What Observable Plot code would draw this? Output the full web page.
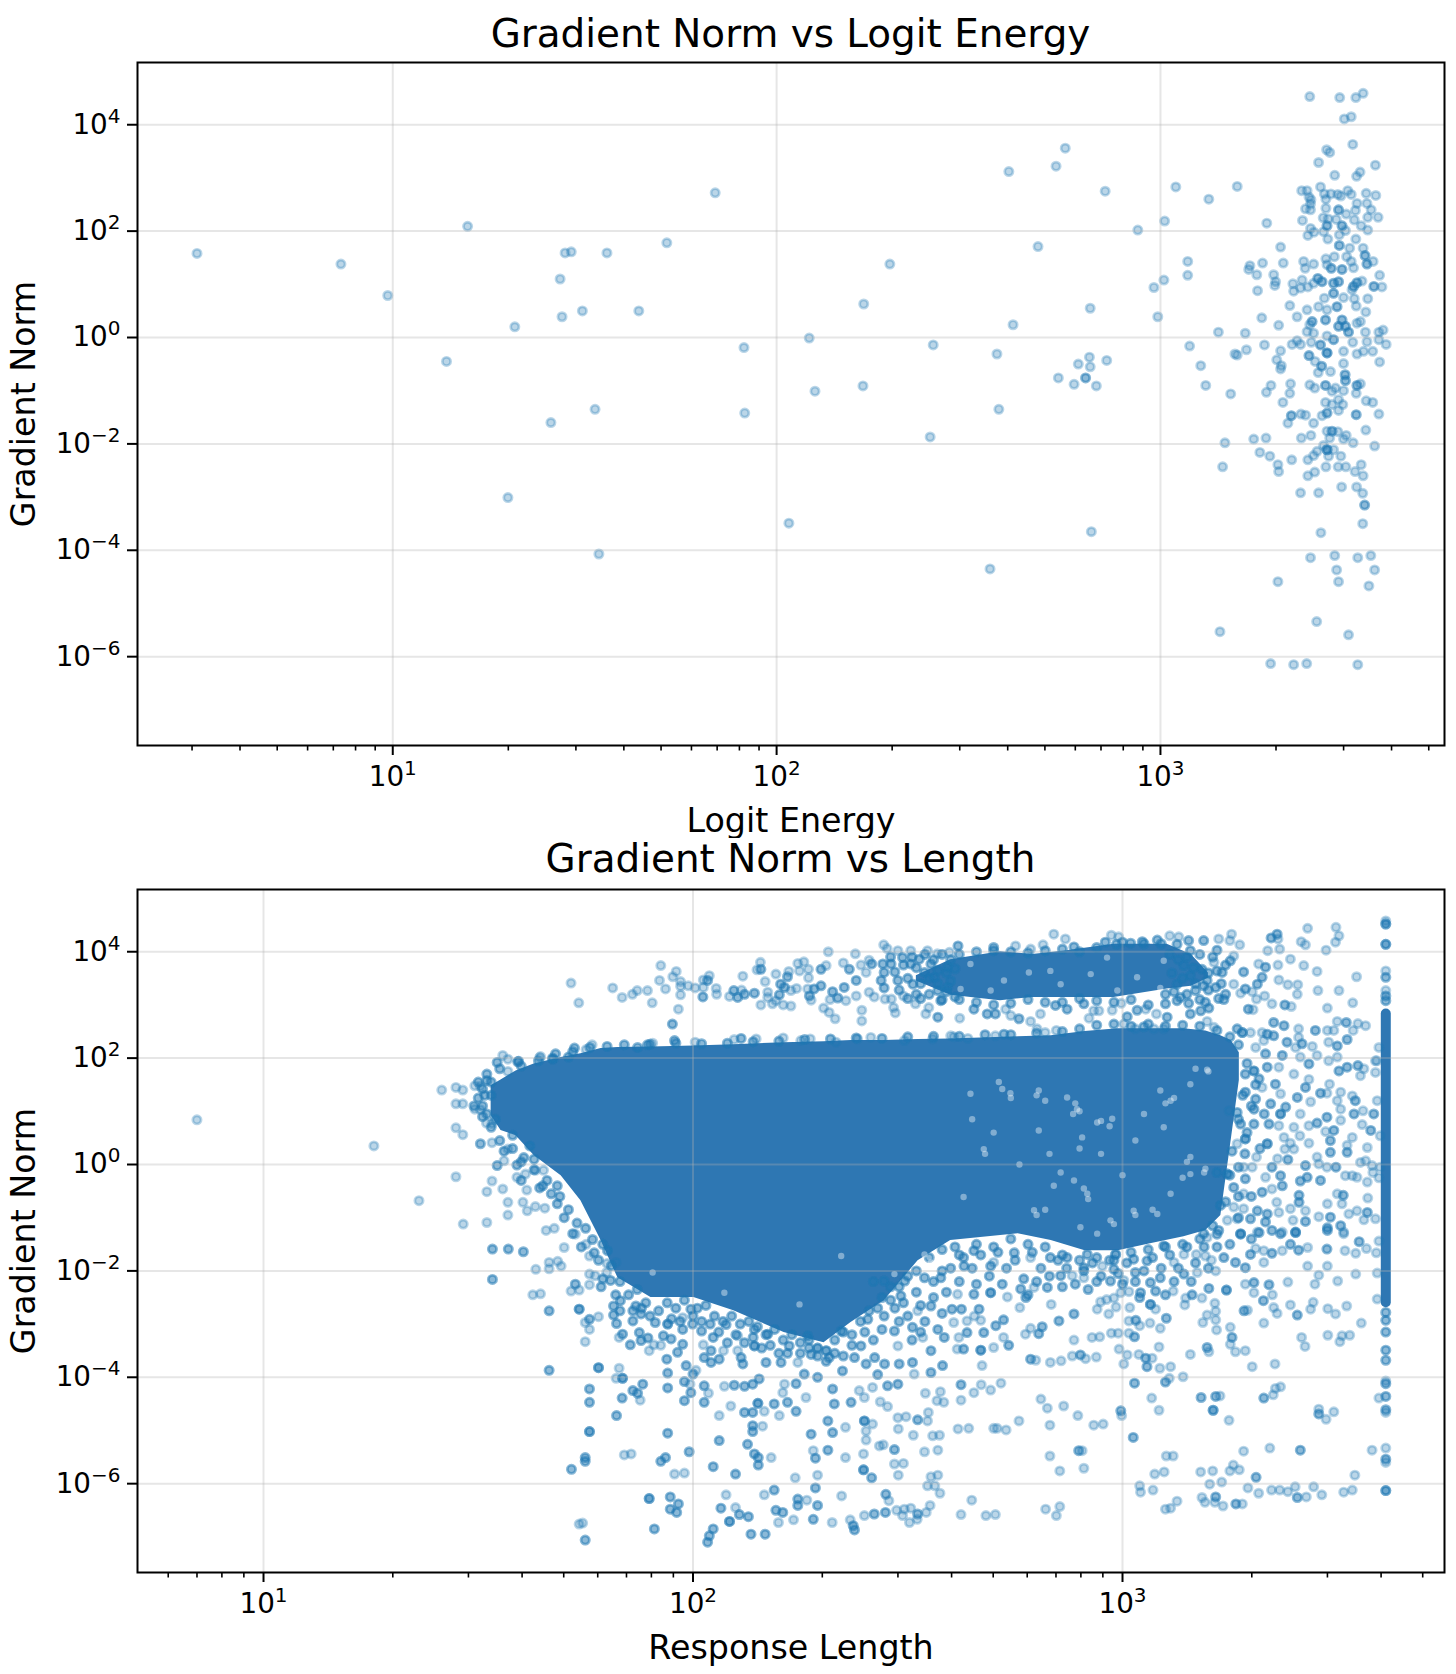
<!DOCTYPE html>
<html><head><meta charset="utf-8">
<script src="https://cdn.jsdelivr.net/npm/d3@7"></script>
<script src="https://cdn.jsdelivr.net/npm/@observablehq/plot@0.6"></script>
<style>
html,body{margin:0;padding:0;background:#fff}
#page{position:relative;width:1456px;height:1674px;font-family:"DejaVu Sans",sans-serif;overflow:hidden}
#page svg{position:absolute;left:0;background:#fff;overflow:visible}
.ttl{position:absolute;left:137px;width:1307px;text-align:center;font-size:38.9px;line-height:44px;color:#000;z-index:2}
</style></head><body>
<div id="page">
<div class="ttl" style="top:12px">Gradient Norm vs Logit Energy</div>
<div class="ttl" style="top:837px">Gradient Norm vs Length</div>
</div>
<script>
// All points are [log10 x, log10 y, overlap weight (default 1)].
const energySparse = [[.49,1.58],[.865,1.38],[.987,.79],[1.195,2.09],[1.14,-.45],[1.84,2.72],[1.714,1.78],[1.558,1.59],[1.465,1.61],[1.449,1.59],[1.436,1.10],[1.494,.50],[1.441,.39],[1.641,.50],[1.318,.20],[1.915,-.19],[1.527,-1.35],[1.412,-1.60],[1.917,-1.42],[1.30,-3.01],[1.537,-4.07],[2.032,-3.49],[2.085,-.01],[2.10,-1.01],[2.225,-.91],[2.227,.63],[2.295,1.38],[2.408,-.14],[2.40,-1.87],[2.574,-.31],[2.579,-1.35],[2.616,.24],[2.681,1.71],[2.605,3.12],[2.728,3.22],[2.752,3.56],[2.556,-4.35],[2.82,-3.65],[2.817,.55],[2.815,-.37],[2.786,-.50],[2.817,-.55],[2.734,-.76],[2.775,-.88],[2.805,-.76,2],[2.833,-.91],[2.856,2.75],[3.04,2.83],[3.126,2.60],[3.20,2.84],[2.941,2.02],[3.011,2.19],[3.277,2.15],[3.071,1.43],[3.071,1.17],[3.009,1.08],[2.983,.94],[2.993,.39],[3.313,1.70],[3.266,1.40],[3.32,1.40],[3.233,1.35],[3.23,1.28],[3.251,1.18],[3.295,1.18],[3.30,1.05],[3.298,.98],[3.253,.88],[3.337,.60],[3.264,.37],[3.308,.23],[3.151,.10],[3.221,.08],[3.076,-.16],[3.194,-.31],[3.20,-.33],[3.224,-.23],[3.271,-.14],[3.313,-.25],[3.303,-.42],[3.315,-.53],[3.313,-.59],[3.105,-.53],[2.86,-.43]];
const energyClusterUpper = [[3.389,4.53],[3.467,4.51],[3.509,4.51],[3.528,4.59],[3.479,4.11],[3.497,4.15],[3.501,3.63],[3.433,3.53],[3.441,3.48],[3.412,3.29],[3.56,3.24],[3.454,3.05],[3.52,3.11],[3.511,3.03],[3.417,2.83],[3.368,2.76],[3.382,2.76],[3.488,2.76],[3.497,2.69],[3.427,2.70],[3.444,2.70],[3.462,2.69],[3.47,2.66],[3.536,2.71],[3.561,2.67],[3.387,2.64],[3.392,2.59],[3.391,2.51],[3.378,2.42],[3.391,2.40],[3.431,2.60],[3.431,2.43],[3.464,2.40,2],[3.512,2.52],[3.538,2.52],[3.549,2.40],[3.508,2.39],[3.484,2.32],[3.54,2.26],[3.567,2.26],[3.424,2.25],[3.437,2.23],[3.37,2.20],[3.458,2.22],[3.505,2.21],[3.434,2.10,2],[3.473,2.10,2],[3.391,2.05],[3.40,1.98],[3.384,1.92],[3.425,1.99],[3.466,1.93],[3.482,2.01],[3.523,2.10],[3.54,2.02],[3.436,1.85],[3.509,1.85],[3.466,1.73,2],[3.493,1.68],[3.528,1.68],[3.533,1.54,2],[3.431,1.48],[3.453,1.52],[3.485,1.52],[3.373,1.43],[3.497,1.43],[3.399,1.38],[3.538,1.38,2],[3.554,1.43],[3.377,1.30],[3.434,1.37],[3.445,1.30,2],[3.473,1.28,2],[3.503,1.31],[3.571,1.17],[3.41,1.11,3],[3.421,1.05,2],[3.369,1.08],[3.345,1.01],[3.347,.87],[3.365,.93],[3.384,.95],[3.399,1.02],[3.451,1.02,3],[3.464,1.05,2],[3.525,1.06],[3.512,1.03,2],[3.503,.96,2],[3.556,.96,2],[3.577,.95],[3.451,.83,2],[3.499,.90]];
const energyClusterLower = [[3.427,.74],[3.477,.75],[3.505,.73],[3.54,.73],[3.412,.58],[3.46,.58,3],[3.51,.59],[3.382,.52],[3.434,.52],[3.535,.48],[3.356,.39],[3.395,.30,2],[3.43,.33,2],[3.473,.33,2],[3.521,.30],[3.512,.27],[3.389,.24],[3.464,.21,3],[3.482,.21,2],[3.382,.11],[3.534,.10],[3.569,.10],[3.58,.14],[3.49,.10,2],[3.399,.08],[3.434,.03],[3.451,-.04,3],[3.356,-.06],[3.343,-.13],[3.365,-.13],[3.393,-.09],[3.417,-.14,2],[3.501,-.09],[3.538,-.08],[3.569,-.04],[3.588,-.13],[3.434,-.29,4],[3.387,-.34,2],[3.477,-.26],[3.512,-.31],[3.529,-.26],[3.553,-.26],[3.571,-.46],[3.403,-.45],[3.42,-.54,2],[3.477,-.49],[3.411,-.66],[3.443,-.64],[3.481,-.70,2],[3.118,-.90],[3.183,-1.06],[3.288,-.90],[3.276,-1.03],[3.339,-.87],[3.337,-1.05],[3.319,-1.22],[3.389,-.89],[3.402,-.95],[3.43,-.90,2],[3.447,-1.01],[3.456,-.95],[3.477,-1.0],[3.512,-.90,2],[3.521,-.87],[3.51,-1.05],[3.482,-.81,2],[3.43,-1.22],[3.464,-1.17],[3.447,-1.26],[3.475,-1.26],[3.536,-1.19],[3.553,-1.22],[3.464,-1.37],[3.434,-1.42,3],[3.421,-1.47],[3.569,-1.44],[3.51,-1.45,2],[3.341,-1.47,2],[3.366,-1.44],[3.378,-1.46],[3.332,-1.61],[3.399,-1.61],[3.535,-1.74],[3.434,-1.76],[3.447,-1.76,2],[3.462,-1.77],[3.484,-1.84],[3.477,-1.91],[3.392,-1.84],[3.367,-1.89],[3.275,-1.89],[3.243,-1.91],[3.168,-1.98],[3.441,-1.89],[3.502,-1.98],[3.558,-2.04],[3.425,-2.03],[3.434,-2.11,4],[3.451,-2.11],[3.408,-2.14],[3.399,-2.22],[3.384,-2.30],[3.342,-2.30],[3.438,-2.23],[3.47,-2.23],[3.259,-2.16],[3.285,-2.23],[3.306,-2.39],[3.308,-2.52],[3.162,-2.43],[3.431,-2.43],[3.463,-2.43],[3.483,-2.43],[3.523,-2.39],[3.507,-2.52],[3.402,-2.53],[3.384,-2.60],[3.528,-2.60],[3.472,-2.81],[3.511,-2.81],[3.527,-2.93],[3.365,-2.92],[3.412,-2.92],[3.532,-3.15,2],[3.527,-3.50],[3.418,-3.67],[3.391,-4.14],[3.454,-4.10],[3.514,-4.14],[3.548,-4.10],[3.459,-4.37],[3.558,-4.37],[3.306,-4.59],[3.464,-4.59],[3.543,-4.67],[3.407,-5.34],[3.155,-5.53],[3.49,-5.59],[3.287,-6.13],[3.347,-6.15],[3.381,-6.13],[3.514,-6.15]];

// Solid mass of overlapping points in the lower panel: envelope
const blobLogLength = [1.53,1.553,1.588,1.63,1.693,1.739,1.786,1.825,1.902,2.002,2.095,2.212,2.305,2.368,2.445,2.524,2.60,2.757,2.834,2.913,2.99,3.065,3.143,3.194,3.229,3.253,3.272];
const blobLogUpper = [1.48,1.59,1.76,1.89,2.01,2.08,2.18,2.20,2.21,2.23,2.25,2.29,2.31,2.33,2.33,2.35,2.36,2.40,2.42,2.50,2.55,2.55,2.55,2.51,2.42,2.33,2.10];
const blobLogLower = [.92,.64,.54,.17,-.21,-.68,-1.43,-2.13,-2.50,-2.50,-2.75,-3.16,-3.35,-2.97,-2.56,-1.81,-1.43,-1.30,-1.43,-1.62,-1.62,-1.49,-1.36,-1.24,-.96,.45,1.58];
// Dense upper band
const bandLogLength = [2.52,2.6,2.716,2.79,2.87,2.98,3.104,3.16,3.2];
const bandLogUpper = [3.55,3.85,4.0,3.95,4.02,4.14,4.14,3.95,3.6];
const bandLogLower = [3.45,3.18,3.08,3.14,3.14,3.14,3.3,3.35,3.5];
// Column of points at the maximum length
const capLogLength = 3.613;
const capLogRange = [-2.6,2.83];
const capPoints = [[3.613,-5.33],[3.613,-5.54,3],[3.613,-5.60],[3.613,-6.13,5],[3.613,-4.61,3],[3.613,-4.66],[3.613,-4.36,3],[3.613,-4.12,3],[3.613,-4.07],[3.613,-3.68,2],[3.613,-3.49,2],[3.613,-3.15,2],[3.613,-2.93,3],[3.613,-2.78,2],[3.597,-4.39],[3.593,-2.53],[3.593,-2.04],[3.613,4.58],[3.613,4.52,5],[3.613,4.14,4],[3.613,3.64],[3.613,3.52,3],[3.613,3.27],[3.613,3.17,2],[3.613,3.08,2],[3.597,-.25],[3.592,1.95],[3.597,2.2]];

const lengthLeft = [[.845,.84],[1.257,.35],[1.415,1.40],[1.448,1.45],[1.464,1.40],[1.448,1.14],[1.464,1.14],[1.448,.69],[1.464,.56],[1.492,1.48],[1.505,1.47],[1.492,1.04],[1.505,1.03],[1.519,.78],[1.532,.77],[1.505,.39,2],[1.532,.41],[1.448,-.23],[1.362,-.68],[1.532,-.31],[1.52,-.51],[1.557,-.46],[1.569,-.71],[1.569,-.95],[1.544,-.02,2],[1.56,.07],[1.59,-.01,2],[1.606,.13,3],[1.59,-.24],[1.61,-.18],[1.569,.29],[1.643,-.44,3],[1.684,-.40,3],[1.613,-.48],[1.684,-.74,2],[1.604,-.71],[1.614,-.87],[1.633,-.79],[1.655,-.82],[1.633,-.11],[1.652,-.11],[1.557,2.05],[1.544,1.92,2],[1.569,1.98],[1.592,1.93,2],[1.643,2.01],[1.674,1.98,2],[1.569,1.75],[1.716,3.41],[1.734,3.04],[1.724,2.19,2],[1.765,2.25],[1.52,1.58,3],[1.51,1.1,3],[1.53,1.3,3],[1.54,.85,3],[1.465,-1.12],[1.52,-1.09],[1.533,-1.59,2],[1.57,-1.59,3],[1.605,-1.64,2],[1.533,-2.16,2],[1.634,-1.97],[1.665,-1.84],[1.685,-1.82],[1.693,-1.91],[1.665,-1.96],[1.70,-1.56],[1.658,-1.24],[1.677,-1.20],[1.726,-1.31],[1.751,-1.50],[1.766,-1.41,3],[1.759,-1.72],[1.627,-2.45],[1.645,-2.43],[1.665,-2.75,2],[1.735,-2.72,4],[1.726,-2.25,2],[1.735,-2.36],[1.716,-2.38],[1.759,-2.26],[1.759,-2.06],[1.772,-2.09],[1.799,-2.03],[1.786,-2.30,2],[1.808,-2.18,2],[1.80,-1.86],[1.821,-1.84],[1.77,-1.66,2],[1.801,-1.62,2],[1.759,-2.91,3],[1.749,-2.97],[1.759,-3.10],[1.749,-3.33],[1.78,-2.86],[1.665,-3.87,2],[1.78,-3.82,5],[1.828,-3.83],[1.836,-4.02,4],[1.821,-4.02],[1.759,-4.22,2],[1.759,-4.47,2],[1.822,-4.72,3],[1.759,-5.02,4],[1.749,-5.51,3],[1.749,-5.58,3],[1.717,-5.73,2],[1.84,-5.46],[1.856,-5.44],[1.86,-4.25,2],[1.871,-4.30,2],[1.883,-4.13,2],[1.877,-4.43],[1.835,-4.39,2],[1.941,-5.05,2],[1.941,-4.20,2],[1.941,-3.92,2],[1.939,-3.66,2],[1.98,-4.08,2],[1.984,-3.78,2],[2.007,-3.87],[2.0,-3.94,2],[1.98,-4.44,2],[1.995,-4.29,2],[1.993,-4.13],[2.026,-4.16,2],[2.026,-4.47,2],[2.036,-4.30]];
const lengthBottom = [[1.898,-6.28,4],[1.947,-6.25,2],[1.966,-6.38,2],[1.947,-6.48,2],[1.962,-6.54,2],[1.91,-6.85,2],[1.749,-7.06,2],[1.735,-6.76],[1.743,-6.74],[1.925,-5.58,2],[1.936,-5.51,2],[1.957,-5.82],[1.98,-5.80],[1.991,-5.40,2],[2.047,-5.68,2],[2.099,-5.82,2],[2.061,-5.19,2],[2.061,-4.72],[2.088,-4.54],[2.073,-4.17],[2.096,-4.15,2],[2.12,-4.17,2],[2.139,-4.13,2],[2.154,-4.03,2],[2.12,-4.66,2],[2.139,-4.66,2],[2.151,-4.49,4],[2.166,-4.64],[2.139,-4.91,3],[2.139,-5.02,2],[2.162,-4.92],[2.127,-5.26,2],[2.143,-5.44,2],[2.152,-5.51,2],[2.152,-5.65,2],[2.182,-5.51],[2.189,-4.50,3],[2.201,-4.72],[2.22,-4.47,2],[2.24,-4.64,3],[2.209,-4.29],[2.24,-4.12,2],[2.213,-4.13],[2.263,-4.38],[2.259,-3.94,2],[2.29,-4.0,2],[2.325,-4.22,2],[2.348,-3.88,3],[2.314,-4.82,2],[2.329,-4.50,2],[2.368,-4.47,2],[2.399,-4.82,4],[2.275,-5.07,3],[2.325,-5.04,2],[2.355,-4.94],[2.403,-5.01],[2.403,-5.18],[2.314,-5.37,2],[2.28,-5.38],[2.285,-5.52,2],[2.355,-5.51],[2.397,-5.44],[2.397,-5.74,4],[2.416,-5.89,2],[2.238,-5.89],[2.29,-5.84],[2.285,-6.08,2],[2.189,-6.12,2],[2.166,-6.21],[2.244,-6.29,2],[2.244,-6.41,2],[2.265,-6.31],[2.29,-6.41,2],[2.346,-6.23],[2.077,-6.21],[2.065,-6.46,2],[2.099,-6.45],[2.108,-6.58,2],[2.129,-6.62,2],[2.085,-6.71,4],[2.047,-6.85,2],[2.038,-6.98,2],[2.034,-7.10,2],[2.135,-6.95,3],[2.168,-6.95,2],[2.193,-6.50,2],[2.209,-6.54,2],[2.199,-6.73],[2.234,-6.68],[2.28,-6.67,2],[2.324,-6.73],[2.366,-6.68],[2.373,-6.79,3],[2.376,-6.87,2],[2.399,-6.60],[2.422,-6.57,2],[2.448,-6.54,2],[2.449,-6.20,2],[2.456,-6.32],[2.474,-6.50],[2.492,-6.48],[2.507,-6.46],[2.488,-6.60],[2.504,-6.73],[2.523,-6.57,2],[2.522,-6.67],[2.543,-6.54],[2.552,-6.41],[2.546,-6.04],[2.554,-5.87],[2.57,-5.84],[2.563,-6.04],[2.575,-6.18],[2.478,-5.84],[2.469,-5.63],[2.49,-5.62],[2.469,-5.36,2],[2.434,-5.29],[2.443,-5.27],[2.539,-5.40],[2.57,-5.37],[2.513,-5.09],[2.478,-4.97],[2.558,-5.10],[2.574,-5.09],[2.477,-4.76],[2.496,-4.74],[2.523,-4.80,3],[2.546,-4.82],[2.548,-4.66],[2.436,-4.46],[2.453,-4.55],[2.418,-4.88],[2.541,-4.30],[2.576,-4.27],[2.568,-4.44],[2.584,-4.47],[2.399,-4.38],[2.418,-4.19],[2.387,-4.25],[2.453,-4.16,2],[2.477,-4.13,2],[2.43,-3.95,2],[2.446,-3.75,2],[2.48,-3.75,2],[2.511,-3.72,2],[2.515,-3.94],[2.554,-3.91,2],[2.554,-3.50,3],[2.581,-3.78,2],[2.376,-3.63,3],[2.403,-3.75,2],[2.423,-3.63,2],[2.317,-3.63,2],[2.275,-3.57,2],[2.244,-3.72],[2.205,-3.72,2],[2.17,-3.72,2],[2.116,-3.75,3],[2.143,-3.41,5],[2.112,-3.63,2],[2.042,-3.72,2],[2.061,-3.66,2],[2.026,-3.63,2],[2.024,-3.39],[2.042,-3.50,2],[2.071,-3.50],[2.104,-3.50],[2.143,-3.10,2],[2.104,-3.22],[2.077,-3.01,2],[2.047,-3.25,3],[2.02,-3.13,3],[1.976,-3.10,3],[1.976,-3.38,3],[1.964,-3.53,2],[1.941,-3.0,4],[1.912,-2.97,3],[1.949,-3.28,2],[1.931,-3.22,2],[1.895,-3.26,2],[1.879,-3.31,2],[1.854,-3.39,2],[1.836,-3.19,2],[1.828,-3.25],[1.822,-2.99,2],[1.815,-2.83,2],[1.815,-2.66,2],[1.831,-2.56,3],[1.875,-3.16,2],[1.86,-2.94,3],[1.867,-2.66,2],[1.879,-2.81,2],[1.898,-3.50],[1.925,-3.40],[1.909,-3.39],[1.995,-2.72,3],[1.999,-3.0,2],[1.976,-2.88],[2.174,-3.19,2],[2.224,-3.41,3],[2.267,-3.22,2],[2.345,-3.13,3],[2.407,-2.91,3],[2.445,-2.85,2],[2.511,-3.06,2],[2.554,-2.66,2],[2.57,-3.10,2],[2.585,-3.25,2],[2.469,-3.13,2],[2.523,-2.75],[2.484,-2.47,2],[2.445,-2.19,2],[2.539,-2.13,2],[2.577,-2.13,3],[2.493,-2.19,3],[2.391,-3.41,2],[2.477,-3.41],[2.535,-3.25]];
const lengthLowerRight = [[2.624,-4.14,2],[2.671,-4.14],[2.654,-4.29],[2.693,-4.24],[2.717,-4.11],[2.624,-4.43],[2.617,-4.97],[2.642,-4.96],[2.70,-4.96],[2.708,-4.96],[2.729,-4.99],[2.759,-4.82],[2.81,-4.41],[2.825,-4.58],[2.863,-4.54],[2.831,-4.90],[2.896,-4.72],[2.933,-4.90],[2.955,-4.88],[2.996,-4.63,2],[2.998,-4.72],[3.025,-5.13,3],[2.831,-5.48],[2.854,-5.76],[2.898,-5.38,2],[2.906,-5.38],[2.91,-5.71],[2.649,-6.31],[2.624,-6.58],[2.682,-6.60],[2.704,-6.58],[2.821,-6.48],[2.854,-6.43],[2.846,-6.60],[3.04,-6.04],[3.042,-6.16],[3.071,-6.12],[3.075,-5.82],[3.097,-5.78],[3.102,-5.48],[3.118,-5.48],[3.10,-6.48],[3.112,-6.46],[3.127,-6.33],[3.182,-5.78],[3.21,-5.76],[3.203,-6.01],[3.231,-5.97],[3.25,-5.76],[3.258,-5.65],[3.272,-5.74],[3.282,-5.39],[3.343,-5.33],[3.414,-5.37,2],[3.581,-5.37],[3.311,-5.88,3],[3.292,-6.08],[3.317,-6.18],[3.347,-6.12],[3.366,-6.12],[3.385,-6.15],[3.402,-6.06],[3.407,-6.26,3],[3.428,-6.25],[3.445,-6.06],[3.464,-6.21],[3.515,-6.16],[3.535,-6.12],[3.541,-5.84],[3.185,-6.26],[3.192,-6.35],[3.217,-6.25,2],[3.215,-6.35],[3.234,-6.42],[3.264,-6.38,2],[3.279,-6.38],[2.677,-3.16,3],[2.63,-3.47,2],[2.67,-3.49,4],[2.70,-3.44],[2.735,-3.40,2],[2.723,-3.25],[2.615,-3.47],[2.673,-3.78],[2.786,-3.66,3],[2.798,-3.68],[2.832,-3.72],[2.857,-3.69],[2.883,-3.60],[2.902,-3.58,2],[2.914,-3.65],[2.939,-3.62],[2.887,-3.30],[2.929,-3.25],[2.947,-3.24],[2.974,-3.17],[2.99,-3.17],[3.015,-3.17],[3.028,-3.24,3],[2.992,-3.47],[3.011,-3.58],[3.003,-3.75],[3.038,-3.57],[3.054,-3.64,2],[3.069,-3.64],[3.057,-3.80,3],[3.087,-3.83],[3.112,-3.80],[3.141,-3.99],[3.109,-4.02],[3.10,-4.09,2],[3.028,-4.11,3],[3.068,-4.39],[3.085,-4.62],[3.085,-3.43],[3.158,-3.57],[3.197,-3.44,3],[3.201,-3.52],[3.183,-4.38,2],[3.217,-4.36,2],[3.227,-4.35],[3.211,-4.62,4],[3.248,-4.81],[3.302,-3.80],[3.355,-3.75],[3.329,-4.39,3],[3.351,-4.33],[3.356,-4.21],[3.368,-4.18],[3.457,-4.60],[3.457,-4.69,2],[3.474,-4.79],[3.492,-4.65],[3.251,-3.06],[3.255,-3.25,2],[3.251,-3.38],[3.263,-3.52],[3.286,-3.50],[3.417,-3.25],[3.425,-3.42],[3.506,-3.33],[3.511,-3.22],[3.529,-3.21],[3.478,-3.21],[3.556,-2.98],[3.407,-2.83,3],[3.391,-2.64],[3.36,-2.80],[3.352,-2.69],[3.329,-2.98],[3.438,-2.72],[3.444,-2.59],[3.478,-2.71],[3.496,-2.81],[3.522,-2.66],[3.283,-2.75,2],[3.291,-2.74],[3.215,-2.61],[3.217,-2.76],[3.217,-2.92],[3.219,-3.11],[3.197,-2.83],[3.187,-2.97],[3.201,-2.33,3],[3.242,-2.36,4],[3.185,-2.51],[3.145,-2.64],[3.147,-2.51],[3.162,-2.45,2],[3.102,-2.89,3],[3.088,-3.08],[3.064,-2.98],[3.04,-3.03],[3.031,-2.93,2],[3.015,-2.94],[3.065,-2.63,5],[3.077,-2.72],[3.017,-2.69],[2.985,-2.68],[2.968,-2.81],[2.941,-2.72],[2.949,-2.58],[2.963,-2.54],[2.98,-2.51],[2.996,-2.41],[3.015,-2.39],[3.042,-2.41,2],[3.077,-2.38,3],[3.118,-2.38],[2.761,-2.69],[2.834,-2.63],[2.852,-2.94,2],[2.887,-2.81,3],[2.813,-3.05,3],[2.774,-3.19],[2.786,-3.08],[2.805,-3.18,2],[2.705,-3.03,2],[2.723,-2.92,2],[2.67,-2.93],[2.655,-2.85],[2.638,-2.94],[2.666,-2.72,2],[2.625,-2.72,2],[2.603,-2.72,2],[2.607,-2.97],[2.638,-3.16,2],[2.619,-3.25],[2.693,-2.41,4],[2.732,-2.49],[2.763,-2.34,2],[2.775,-2.50,2],[2.794,-2.31],[2.825,-2.31,3],[2.654,-2.44,2],[2.616,-2.44],[2.631,-1.91,3],[2.693,-1.91,3]];
const lengthNearBlobRight = [[3.172,-1.69],[3.193,-1.72],[3.207,-1.80],[3.236,-1.75,3],[3.263,-1.84,2],[3.286,-1.94,2],[3.298,-1.69,2],[3.329,-1.84],[3.31,-1.58],[3.329,-1.62],[3.348,-1.67,2],[3.372,-1.62],[3.391,-1.50,2],[3.41,-1.61,3],[3.431,-1.56],[3.476,-1.59,2],[3.518,-1.62],[3.543,-1.67],[3.551,-1.45,2],[3.568,-1.58],[3.515,-1.30],[3.477,-1.19,2],[3.403,-1.28,2],[3.368,-1.30,2],[3.318,-1.28,2],[3.275,-1.31,3],[3.22,-1.31,3],[3.197,-1.37],[3.431,-1.91],[3.477,-1.91],[3.457,-2.08],[3.543,-2.06],[3.501,-2.19],[3.448,-2.25],[3.385,-2.21],[3.286,-2.25],[3.306,-2.22,3],[3.341,-2.26,3],[3.306,-2.41],[3.349,-2.45],[3.328,-2.56,2],[3.591,-1.66],[3.597,-1.44],[3.217,-2.0],[3.174,-2.03],[3.143,-2.06,2],[3.088,-2.13,3],[3.065,-2.22,2],[3.03,-2.03,2],[2.98,-1.97,3],[2.953,-1.91],[2.91,-1.94,2],[2.91,-2.13],[2.856,-2.09,3],[2.883,-2.09],[2.972,-2.19,2],[3.003,-2.18],[3.026,-1.78,2],[3.057,-1.81,3],[2.984,-1.69,4],[2.918,-1.69,3],[2.871,-1.75,2],[2.832,-1.75,3],[2.786,-1.75],[2.748,-1.66,2],[2.70,-1.84],[2.654,-1.62,2],[3.096,-1.53,3],[3.143,-1.69],[3.12,-1.84],[3.224,-1.24,3],[3.275,-1.30,2],[3.314,-1.27],[3.348,-1.24,2],[3.372,-1.27],[3.403,-1.27,2],[3.477,-1.24,2],[3.515,-1.27],[3.189,-1.30,2]];
const lengthRightMiddle = [[3.267,2.55,2],[3.279,2.48,4],[3.298,2.48],[3.325,2.48],[3.352,2.67,2],[3.376,2.61,3],[3.337,2.45,3],[3.352,2.42,3],[3.329,2.33],[3.383,2.30,2],[3.41,2.55],[3.41,2.39],[3.449,2.52,2],[3.477,2.52],[3.5,2.69],[3.521,2.67,2],[3.548,2.65],[3.566,2.61],[3.492,2.52],[3.537,2.52],[3.523,2.35,2],[3.5,2.23,2],[3.48,2.30],[3.418,2.27,3],[3.442,2.22],[3.403,2.20],[3.31,2.20],[3.333,2.08,2],[3.372,2.05,3],[3.414,2.02],[3.434,1.89,3],[3.453,2.05],[3.48,1.95],[3.50,2.02],[3.504,1.76,2],[3.523,1.83,2],[3.548,1.86,3],[3.554,1.67],[3.562,1.80],[3.589,1.95],[3.589,1.73],[3.286,1.70,3],[3.306,1.76,4],[3.337,1.83,3],[3.364,1.83],[3.399,1.70],[3.318,1.61,2],[3.356,1.51,3],[3.434,1.60],[3.482,1.51],[3.426,1.45,2],[3.461,1.34,2],[3.476,1.34],[3.508,1.36],[3.407,1.26,3],[3.438,1.18],[3.50,1.20],[3.535,1.29],[3.542,1.20,2],[3.593,1.20],[3.286,1.36,3],[3.325,1.45],[3.368,1.33],[3.31,1.23,2],[3.306,1.04,3],[3.345,1.14,2],[3.38,1.08,3],[3.368,.95,4],[3.267,.98,3],[3.248,1.01],[3.414,.95],[3.476,.89,2],[3.508,1.04],[3.539,.95,3],[3.56,1.01],[3.585,.95,2],[3.508,.83],[3.453,.78,3],[3.434,.73],[3.399,.70],[3.558,.75],[3.578,.64,3],[3.60,.54],[3.275,.76,2],[3.306,.76,2],[3.341,.76,3],[3.364,.73],[3.492,.64,2],[3.473,.62],[3.535,.51],[3.523,.36],[3.523,.23,3],[3.484,.45,2],[3.484,.23,3],[3.57,.32],[3.413,.54],[3.434,.40],[3.391,.40],[3.399,.29],[3.376,.51],[3.286,.48,4],[3.267,.39],[3.337,.39,4],[3.378,.29],[3.312,.14],[3.361,.11],[3.385,.09,2],[3.453,.14],[3.426,-.02,3],[3.457,.01],[3.497,-.05,3],[3.476,-.05],[3.554,.04],[3.566,.07],[3.581,-.02],[3.60,-.05],[3.348,-.05,2],[3.282,-.05],[3.302,-.05],[3.22,-.15,2],[3.244,-.18,4],[3.286,-.27,3],[3.333,-.24],[3.368,-.21,3],[3.414,-.31,3],[3.43,-.24,2],[3.461,-.30,3],[3.519,-.21],[3.546,-.24],[3.535,-.21],[3.583,-.15],[3.57,-.33],[3.259,-.43,3],[3.372,-.40,2],[3.325,-.52,3],[3.348,-.46],[3.411,-.58,3],[3.411,-.71,3],[3.282,-.55],[3.50,-.55],[3.514,-.58,2],[3.511,-.74],[3.477,-.74],[3.571,-.63],[3.359,-.71],[3.228,-.77,3],[3.259,-.80],[3.282,-.83],[3.314,-.87,2],[3.337,-.93,2],[3.391,-.83],[3.426,-.87],[3.364,-.90],[3.457,-.98],[3.484,-.99,2],[3.508,-1.15,3],[3.527,-.93],[3.546,-.87],[3.57,-.90,2],[3.589,-1.02],[3.397,-1.05],[3.426,-1.07,2],[3.298,-1.02,2],[3.333,-1.08,2],[3.267,-1.02],[3.244,-1.05],[3.562,-1.04]];
const lengthUpperLeft = [[1.813,3.32],[1.835,3.14],[1.859,3.20],[1.87,3.27],[1.894,3.27],[1.905,3.04],[1.925,3.74],[1.922,3.46],[1.936,3.30],[1.953,3.53],[1.961,3.63],[1.971,3.44],[1.971,3.35],[1.971,3.19],[1.966,2.92],[1.952,2.64,3],[1.989,3.36],[2.005,3.32],[2.023,3.15,2],[2.024,3.33],[2.024,3.47],[2.034,3.46,3],[2.038,3.55],[2.054,3.31],[2.055,3.20],[2.085,3.16],[2.095,3.27,2],[2.104,3.14,2],[2.113,3.28],[2.12,3.20,2],[2.143,3.22,2],[2.116,3.54],[2.149,3.66],[2.157,3.80],[2.158,3.67,2],[2.168,3.44],[2.174,3.24],[2.174,3.14],[2.158,3.0],[2.185,3.02],[2.193,3.08],[2.21,3.0],[2.228,2.98],[2.228,3.27],[2.241,3.31],[2.193,3.58],[2.204,3.39,3],[2.22,3.53,3],[2.213,3.33,2],[2.201,3.19,2],[2.223,3.63],[2.244,3.78],[2.258,3.81],[2.248,3.64],[2.269,3.67],[2.269,3.51],[2.298,3.67,3],[2.31,3.74],[2.315,4.0],[2.298,3.36,2],[2.282,3.30,2],[2.267,3.30],[2.271,3.17,2],[2.275,3.09],[2.304,2.94],[2.317,2.86],[2.331,2.74],[2.319,3.10],[2.325,3.25,2],[2.337,3.13,2],[2.356,3.08],[2.38,3.17],[2.352,3.33,2],[2.364,3.67,2],[2.35,3.79],[2.38,3.46,3],[2.378,3.96],[2.391,3.75],[2.393,2.90],[2.393,2.70],[2.41,3.84],[2.41,3.24],[2.422,3.15],[2.403,3.61],[2.416,3.77,2],[2.444,4.13],[2.452,4.06],[2.442,3.77,3],[2.461,3.77,2],[2.477,4.02],[2.488,3.89,2],[2.507,4.02],[2.527,3.86,3],[2.546,4.02],[2.569,3.96],[2.597,3.99],[2.445,3.61,2],[2.438,3.46,3],[2.477,3.46,3],[2.445,3.32,2],[2.447,3.11],[2.462,3.11],[2.49,3.17],[2.467,2.95],[2.471,2.85],[2.512,3.39,3],[2.52,3.20,2],[2.518,3.02],[2.542,2.83],[2.549,2.95],[2.57,2.77,2],[2.539,3.61,3],[2.562,3.52,3],[2.577,3.08,2],[2.593,3.71,3],[2.57,3.27,3],[2.593,3.33,3],[2.507,3.77,2],[2.554,3.77,2],[2.21,2.38],[2.147,2.36],[2.112,2.37,2],[2.096,2.35],[2.005,2.30],[1.957,2.33,2],[1.906,2.28],[1.894,2.25,2],[1.871,2.20,2],[1.751,2.16],[1.645,2.03],[1.673,2.0,2],[1.71,2.02,2],[1.594,1.94,3],[2.251,2.33],[2.273,2.36],[2.333,2.30],[2.383,2.36],[2.414,2.39],[2.492,2.33],[2.558,2.36],[2.60,2.42]];
const lengthUpperRight = [[2.84,4.33],[2.867,4.24],[2.815,4.13],[2.751,4.11],[2.70,4.08,2],[2.617,4.11,2],[2.786,4.05],[2.887,4.09,2],[2.974,4.31],[2.991,4.28],[2.96,4.18,3],[2.986,4.14,3],[3.019,4.16,2],[3.046,4.19,2],[3.081,4.22,2],[3.11,4.30],[3.131,4.28],[3.154,4.21,3],[3.189,4.21,3],[3.224,4.24],[3.254,4.33],[3.25,4.21],[3.273,4.13],[3.22,4.03,3],[3.158,4.02,2],[3.127,4.14,2],[2.621,2.75],[2.654,2.92,2],[2.685,2.83,2],[2.704,2.83,2],[2.728,2.92],[2.74,2.80],[2.759,2.74,3],[2.786,2.69],[2.809,2.83],[2.801,2.55],[2.82,2.48],[2.846,2.52],[2.64,2.37],[2.607,2.40],[2.704,2.42],[2.724,2.45,2],[2.871,2.92,2],[2.844,2.99,2],[2.91,3.02,2],[2.922,2.75],[2.933,2.89],[2.945,2.89],[2.976,2.90],[3.011,2.78,2],[3.003,2.64],[2.997,3.03],[3.034,2.90,2],[3.054,2.92],[3.079,2.83],[3.104,2.77,2],[3.096,2.55],[3.03,2.55],[3.05,2.59,2],[3.073,2.55],[3.10,3.02,3],[3.127,3.08,3],[3.154,3.03,2],[3.158,2.83,2],[3.182,2.89,2],[3.201,2.94,2],[3.236,3.10,2],[3.224,3.12,2],[3.193,3.05,2],[3.197,2.69],[3.213,2.58],[3.143,3.74,2],[3.158,3.55,3],[3.185,3.67,3],[3.213,3.80],[3.22,3.64,2],[3.197,3.46,3],[3.17,3.27,2],[3.127,3.39,3],[3.135,3.14,3],[3.189,3.36,2],[3.217,3.33,2],[3.251,3.83,2],[3.259,3.92],[3.232,3.61,2],[3.259,3.39],[3.282,3.62,3],[3.275,3.22],[3.286,3.30,2],[3.302,3.25],[3.314,3.39,2],[3.317,3.77],[3.333,3.71,2],[3.325,3.52,2],[3.312,3.11],[3.331,3.17],[3.293,2.92,2],[3.304,2.91],[3.348,3.02],[3.364,3.47],[3.362,3.75],[3.338,4.02],[3.346,4.26,2],[3.36,4.33,2],[3.362,4.24],[3.366,4.05],[3.391,3.86],[3.422,3.74],[3.453,3.63],[3.385,3.38],[3.408,3.38],[3.407,3.20],[3.455,3.27],[3.378,3.0,2],[3.393,2.97],[3.431,4.44],[3.416,4.19],[3.426,4.13],[3.497,4.46],[3.504,4.30],[3.496,4.18],[3.474,4.03],[3.545,3.53],[3.504,3.27],[3.536,3.04],[3.477,2.94]];
// Points that roughen the outline of the solid mass and of the band
const blobEdgeBottom = [[1.79,-1.5,3],[1.81,-1.9,3],[1.83,-2.2,3],[1.85,-2.45,3],[1.87,-2.35,3],[1.89,-2.6,3],[1.92,-2.75,3],[1.94,-2.6,3],[1.96,-2.7,3],[1.98,-2.55,3],[2.01,-2.7,3],[2.03,-2.65,3],[2.05,-2.85,3],[2.07,-2.95,3],[2.09,-2.85,3],[2.11,-3.0,3],[2.13,-2.95,3],[2.15,-3.05,3],[2.17,-3.2,3],[2.19,-3.1,3],[2.21,-3.3,3],[2.23,-3.2,3],[2.25,-3.35,3],[2.27,-3.3,3],[2.29,-3.45,4],[2.31,-3.5,4],[2.33,-3.3,3],[2.35,-3.15,3],[2.37,-3.2,3],[2.39,-2.95,3],[2.41,-2.75,3],[2.43,-2.7,3],[2.46,-2.55,3],[2.48,-2.3,3],[2.5,-2.1,3],[2.52,-2.0,3],[2.55,-1.75,3],[2.58,-1.6,3],[2.62,-1.7,3],[2.66,-1.5,3],[2.7,-1.55,3],[2.74,-1.4,3],[2.78,-1.5,3],[2.82,-1.55,3],[2.86,-1.7,3],[2.9,-1.8,3],[2.94,-1.75,3],[2.98,-1.8,3],[3.02,-1.65,3],[3.06,-1.6,3],[3.1,-1.55,3],[3.14,-1.5,3],[3.18,-1.4,3],[3.21,-1.15,3],[3.24,-.7,3],[3.25,-.2,3],[3.255,.25,3],[3.27,.85,3],[3.28,1.3,3],[3.29,1.9,3]];
const blobEdgeTop = [[1.6,1.85,3],[1.64,1.95,3],[1.68,2.08,3],[1.72,2.12,3],[1.76,2.2,3],[1.8,2.22,3],[1.84,2.25,3],[1.9,2.26,3],[1.96,2.28,3],[2.02,2.27,3],[2.08,2.28,3],[2.14,2.31,3],[2.2,2.32,3],[2.26,2.35,3],[2.32,2.36,3],[2.38,2.38,3],[2.44,2.37,3],[2.5,2.4,3],[2.56,2.41,3],[2.62,2.41,3],[2.68,2.44,3],[2.74,2.44,3],[2.8,2.47,3],[2.86,2.5,3],[2.9,2.55,3],[2.94,2.62,3],[2.98,2.64,3],[3.02,2.6,3],[3.06,2.64,3],[3.1,2.6,3],[3.14,2.62,3],[3.18,2.6,3],[3.22,2.52,3],[3.25,2.4,3],[3.27,2.25,3]];
const blobEdgeLeft = [[1.5,1.55,3],[1.515,1.3,3],[1.52,.95,3],[1.53,.7,3],[1.55,.45,3],[1.58,.3,3],[1.6,.05,3],[1.63,-.1,3],[1.66,-.3,3],[1.69,-.6,3],[1.71,-.85,3],[1.73,-1.1,3],[1.75,-1.2,3],[1.52,1.7,3],[1.55,1.8,3],[1.62,.35,2],[1.63,.1,2],[1.65,-.4,2],[1.67,-.55,2],[1.7,-1.0,2],[1.72,-1.3,2],[1.74,-1.55,2],[1.78,-1.8,2],[1.79,-2.15,2],[1.82,-2.45,2],[1.58,.55,2],[1.56,.25,2],[1.6,-.3,2],[1.53,1.55,3],[1.51,1.42,3],[1.5,1.25,3],[1.49,1.1,3],[1.51,.9,3]];
const bandEdges = [[2.62,3.95,2],[2.66,4.0,2],[2.7,4.02,2],[2.74,4.0,2],[2.78,3.98,2],[2.82,4.02,2],[2.86,4.05,2],[2.9,4.0,2],[2.94,4.08,2],[3.0,4.18,2],[3.05,4.15,2],[3.09,4.15,2],[2.62,3.1,3],[2.66,3.05,3],[2.7,3.0,3],[2.74,3.03,3],[2.78,3.1,3],[2.82,3.05,3],[2.86,3.05,3],[2.9,3.12,3],[2.94,3.08,3],[2.98,3.05,3],[3.02,3.1,3],[3.06,3.0,3],[3.1,3.2,3]];
const bandLeftFringe = [[2.46,3.9,2],[2.47,3.62,2],[2.48,3.28,2],[2.49,3.75,2],[2.5,3.5,3],[2.5,3.12,2],[2.51,3.9,2],[2.52,3.7,2],[2.53,3.4,3],[2.53,3.12,2],[2.54,3.95,2],[2.55,3.5,3],[2.55,3.2,3],[2.56,3.85,2],[2.57,3.65,3],[2.57,3.4,3],[2.58,3.1,3],[2.58,3.95,2],[2.59,3.6,3],[2.59,3.25,3],[2.6,3.85,3],[2.6,3.45,3],[2.61,3.68,3],[2.61,3.15,3]];
const bandRightFringe = [[3.11,3.95,3],[3.115,3.6,3],[3.12,3.25,3],[3.13,3.85,3],[3.14,3.5,3],[3.15,3.2,3],[3.15,3.9,2],[3.165,3.7,3],[3.17,3.4,3],[3.18,3.1,2],[3.18,3.95,2],[3.2,3.6,3],[3.2,3.28,2],[3.21,3.9,2],[3.23,3.4,2],[3.24,3.75,2],[3.24,3.2,2]];
const fringeLowerRight = [[2.61,-1.55,3],[2.63,-1.75,2],[2.65,-1.95,3],[2.67,-1.7,3],[2.69,-2.1,2],[2.71,-1.65,3],[2.73,-1.95,3],[2.75,-1.8,2],[2.77,-2.15,2],[2.79,-1.65,3],[2.81,-1.95,2],[2.83,-2.1,3],[2.85,-1.8,3],[2.87,-1.95,2],[2.89,-2.25,2],[2.91,-2.0,3],[2.93,-1.85,3],[2.95,-2.1,2],[2.97,-1.8,3],[2.99,-2.05,3],[3.01,-1.85,3],[3.03,-2.2,2],[3.05,-2.0,3],[3.07,-1.75,3],[3.09,-1.95,2],[3.11,-1.7,3],[3.13,-1.95,2],[3.15,-1.55,3],[3.17,-1.85,2],[3.19,-1.55,2],[3.2,-1.95,2],[3.22,-1.55,2],[3.25,-1.5,3],[3.27,-1.0,2],[3.27,-.6,2],[3.27,-.05,3],[3.285,.2,3],[3.29,.6,2],[3.3,1.1,3],[3.31,1.5,2],[3.32,.3,2],[3.33,.95,3],[3.3,-.6,2],[3.3,-1.4,2],[2.6,-1.95,2],[2.62,-2.2,2],[2.66,-2.25,2],[2.72,-2.25,2],[2.78,-2.45,2],[2.8,-2.2,2],[2.86,-2.3,2],[2.92,-2.35,2],[2.94,-2.2,2],[3.0,-2.25,2],[3.04,-2.5,2],[3.1,-2.45,2],[3.12,-2.2,2],[3.16,-2.2,2]];
const fringeLowerMiddle = [[2.42,-2.2,3],[2.44,-2.5,3],[2.46,-2.3,2],[2.47,-2.7,2],[2.49,-2.6,3],[2.5,-2.85,2],[2.52,-2.4,3],[2.53,-2.65,2],[2.54,-2.95,2],[2.56,-2.2,3],[2.56,-2.5,2],[2.58,-2.8,2],[2.58,-2.0,3],[2.59,-2.4,2],[2.4,-3.15,3],[2.42,-3.3,2],[2.44,-3.1,2],[2.48,-2.95,2],[2.51,-3.3,2],[2.53,-3.15,2],[2.1,-3.2,3],[2.12,-3.35,2],[2.14,-3.25,3],[2.16,-3.45,2],[2.18,-3.4,3],[2.2,-3.55,2],[2.22,-3.55,2],[2.25,-3.55,2],[2.27,-3.45,3],[2.29,-3.6,2],[2.31,-3.7,2],[2.33,-3.55,3],[2.35,-3.6,2],[2.37,-3.4,3],[2.02,-2.95,3],[2.04,-3.0,2],[2.06,-3.15,2],[2.08,-3.35,2],[1.9,-2.85,3],[1.88,-2.7,3],[1.86,-2.75,2],[1.83,-2.75,2],[1.95,-2.9,2],[1.97,-2.95,2],[2.0,-2.85,3]];
// Thin gaps left between overlapping points
const massGaps = [[2.894,1.04],[2.941,.79],[2.976,.86],[2.906,.51],[2.871,1.26],[2.805,1.39],[2.805,.64],[2.739,1.34],[2.712,1.55],[2.646,1.33],[3.112,1.2],[3.158,1.51],[3.197,1.78],[3.088,1.39],[3.096,.70],[3.158,.14],[3.193,-.08],[3.158,-.18],[2.918,-.55],[2.794,-.86],[3.026,-.87],[3.081,-.93],[2.972,-1.05],[2.63,-.61],[2.856,-.15],[2.887,-.30],[2.677,.29],[2.902,-1.18],[2.941,-1.30],[3.112,-.55],[2.782,3.61],[2.646,3.77],[2.724,3.46],[2.856,3.39],[2.926,3.58],[2.964,3.89],[3.088,3.32],[3.034,3.52],[2.832,3.64],[2.623,3.30],[2.693,3.27],[3.096,3.83],[2.988,3.27],[1.906,-2.03],[2.073,-2.41],[2.248,-2.63],[2.345,-1.72],[2.539,-1.69],[2.554,-1.84],[2.469,-2.06],[2.9,1.0],[2.89,1.15],[2.885,.95],[2.95,.82],[2.97,.72],[2.72,1.42],[2.74,1.25],[2.8,1.3],[2.82,1.2],[3.1,1.15],[3.12,1.25],[3.2,1.75],[3.17,1.8],[3.15,.05],[3.14,-.25],[3.19,-.15],[2.92,-.65],[2.91,-.45],[2.8,-.95],[2.82,-.85],[3.03,-.95],[3.07,-.85],[2.98,-1.12],[2.7,.6],[2.68,.2],[2.83,.2],[2.84,-.4],[2.95,.2],[2.76,.0],[2.9,.3],[3.03,.45],[3.05,.95],[3.0,-.2],[2.65,.85]];

const energyPoints = [energySparse, energyClusterUpper, energyClusterLower];
const lengthPoints = [lengthLeft, lengthBottom, lengthLowerRight, lengthNearBlobRight, lengthRightMiddle, lengthUpperLeft, lengthUpperRight, capPoints, blobEdgeBottom, blobEdgeTop, blobEdgeLeft, bandEdges, bandLeftFringe, bandRightFringe, fringeLowerRight, fringeLowerMiddle];
const yTicks = [4,2,0,-2,-4,-6];
const blue = "#1f77b4", solid = "#2e77b3";

function expand(lists){
  const out=[];
  for(const list of lists) for(const p of list){
    const n=p[2]||1, times=n<=1?1:Math.floor(n/2)+1;
    for(let i=0;i<times;i++) out.push({x:10**p[0],y:10**p[1]});
  }
  return out;
}
function zipEnvelope(xs,hi,lo){return xs.map((x,i)=>({x:10**x,hi:10**hi[i],lo:10**lo[i]}));}
function panel(o){
  const dec=[];
  for(let e=o.minorFrom;e<=3;e++) for(let m=2;m<=9;m++){const v=m*10**e; if(v>o.xDom[0]&&v<o.xDom[1]) dec.push(v);}
  const majors=o.xMajors, ys=yTicks.map(e=>10**e);
  const fmt=d=>"10^"+Math.round(Math.log10(d));
  return Plot.plot({
    width:1456,height:o.height,marginLeft:137,marginRight:12,marginTop:o.marginTop,marginBottom:o.marginBottom,
    style:{fontFamily:"DejaVu Sans",color:"#000",background:"#fff"},
    x:{type:"log",domain:o.xDom},y:{type:"log",domain:[10**-7.67,10**5.17]},
    marks:[
      ...(o.extra||[]),
      Plot.dot(expand(o.points),{x:"x",y:"y",r:4.1,fill:blue,fillOpacity:.3,stroke:blue,strokeOpacity:.3,strokeWidth:2.8}),
      ...(o.over||[]),
      Plot.ruleX(majors,{stroke:"#b0b0b0",strokeOpacity:.32,strokeWidth:2}),
      Plot.ruleY(ys,{stroke:"#b0b0b0",strokeOpacity:.32,strokeWidth:2}),
      Plot.axisX({ticks:dec,tickSize:5.5,strokeWidth:1.6,tickFormat:()=>"",label:null}),
      Plot.axisX({ticks:majors,tickSize:10,strokeWidth:2,tickPadding:11,fontSize:27.8,tickFormat:fmt,label:o.xLabel,labelAnchor:"center",labelArrow:"none",labelOffset:o.xLabelOffset}),
      Plot.axisY({ticks:ys,tickSize:10,strokeWidth:2,tickPadding:7,fontSize:27.8,tickFormat:fmt,label:"Gradient Norm",labelAnchor:"center",labelArrow:"none",labelOffset:126}),
      Plot.frame({stroke:"#000",strokeWidth:2})
    ]
  });
}
function finish(svg,top){
  svg.style.top=top+"px";
  svg.querySelectorAll("text").forEach(t=>{
    const m=/^10\^(-?\d+)$/.exec(t.textContent);
    if(m){
      t.textContent="";
      const a=document.createElementNS("http://www.w3.org/2000/svg","tspan");a.textContent="10";t.appendChild(a);
      const b=document.createElementNS("http://www.w3.org/2000/svg","tspan");b.textContent=m[1].replace("-","\u2212");
      b.setAttribute("dy","-0.55em");b.setAttribute("font-size","0.72em");t.appendChild(b);
    }
  });
  svg.querySelectorAll("g[aria-label='y-axis label'] text, g[aria-label='x-axis label'] text").forEach(t=>t.setAttribute("font-size","33.3"));
  document.getElementById("page").appendChild(svg);
}
const blob=zipEnvelope(blobLogLength,blobLogUpper,blobLogLower), band=zipEnvelope(bandLogLength,bandLogUpper,bandLogLower);
const top1=panel({height:838,marginTop:62,marginBottom:93,xDom:[10**.335,10**3.74],minorFrom:0,xMajors:[10,100,1000],points:energyPoints,xLabel:"Logit Energy",xLabelOffset:86});
finish(top1,0);
const bot=panel({height:836,marginTop:51,marginBottom:102,xDom:[10**.7066,10**3.7497],minorFrom:0,xMajors:[10,100,1000],points:lengthPoints,xLabel:"Response Length",xLabelOffset:86,
  extra:[
    Plot.areaY(blob,{x:"x",y1:"lo",y2:"hi",fill:solid}),
    Plot.areaY(band,{x:"x",y1:"lo",y2:"hi",fill:solid}),
    Plot.ruleX([10**capLogLength],{y1:10**capLogRange[0],y2:10**capLogRange[1],stroke:solid,strokeWidth:10,strokeLinecap:"round"})
  ],
  over:[
    Plot.dot(massGaps.map(p=>({x:10**p[0],y:10**p[1]})),{x:"x",y:"y",r:3.2,fill:"#fff",fillOpacity:.4})
  ]});
finish(bot,838);
</script>
</body></html>
